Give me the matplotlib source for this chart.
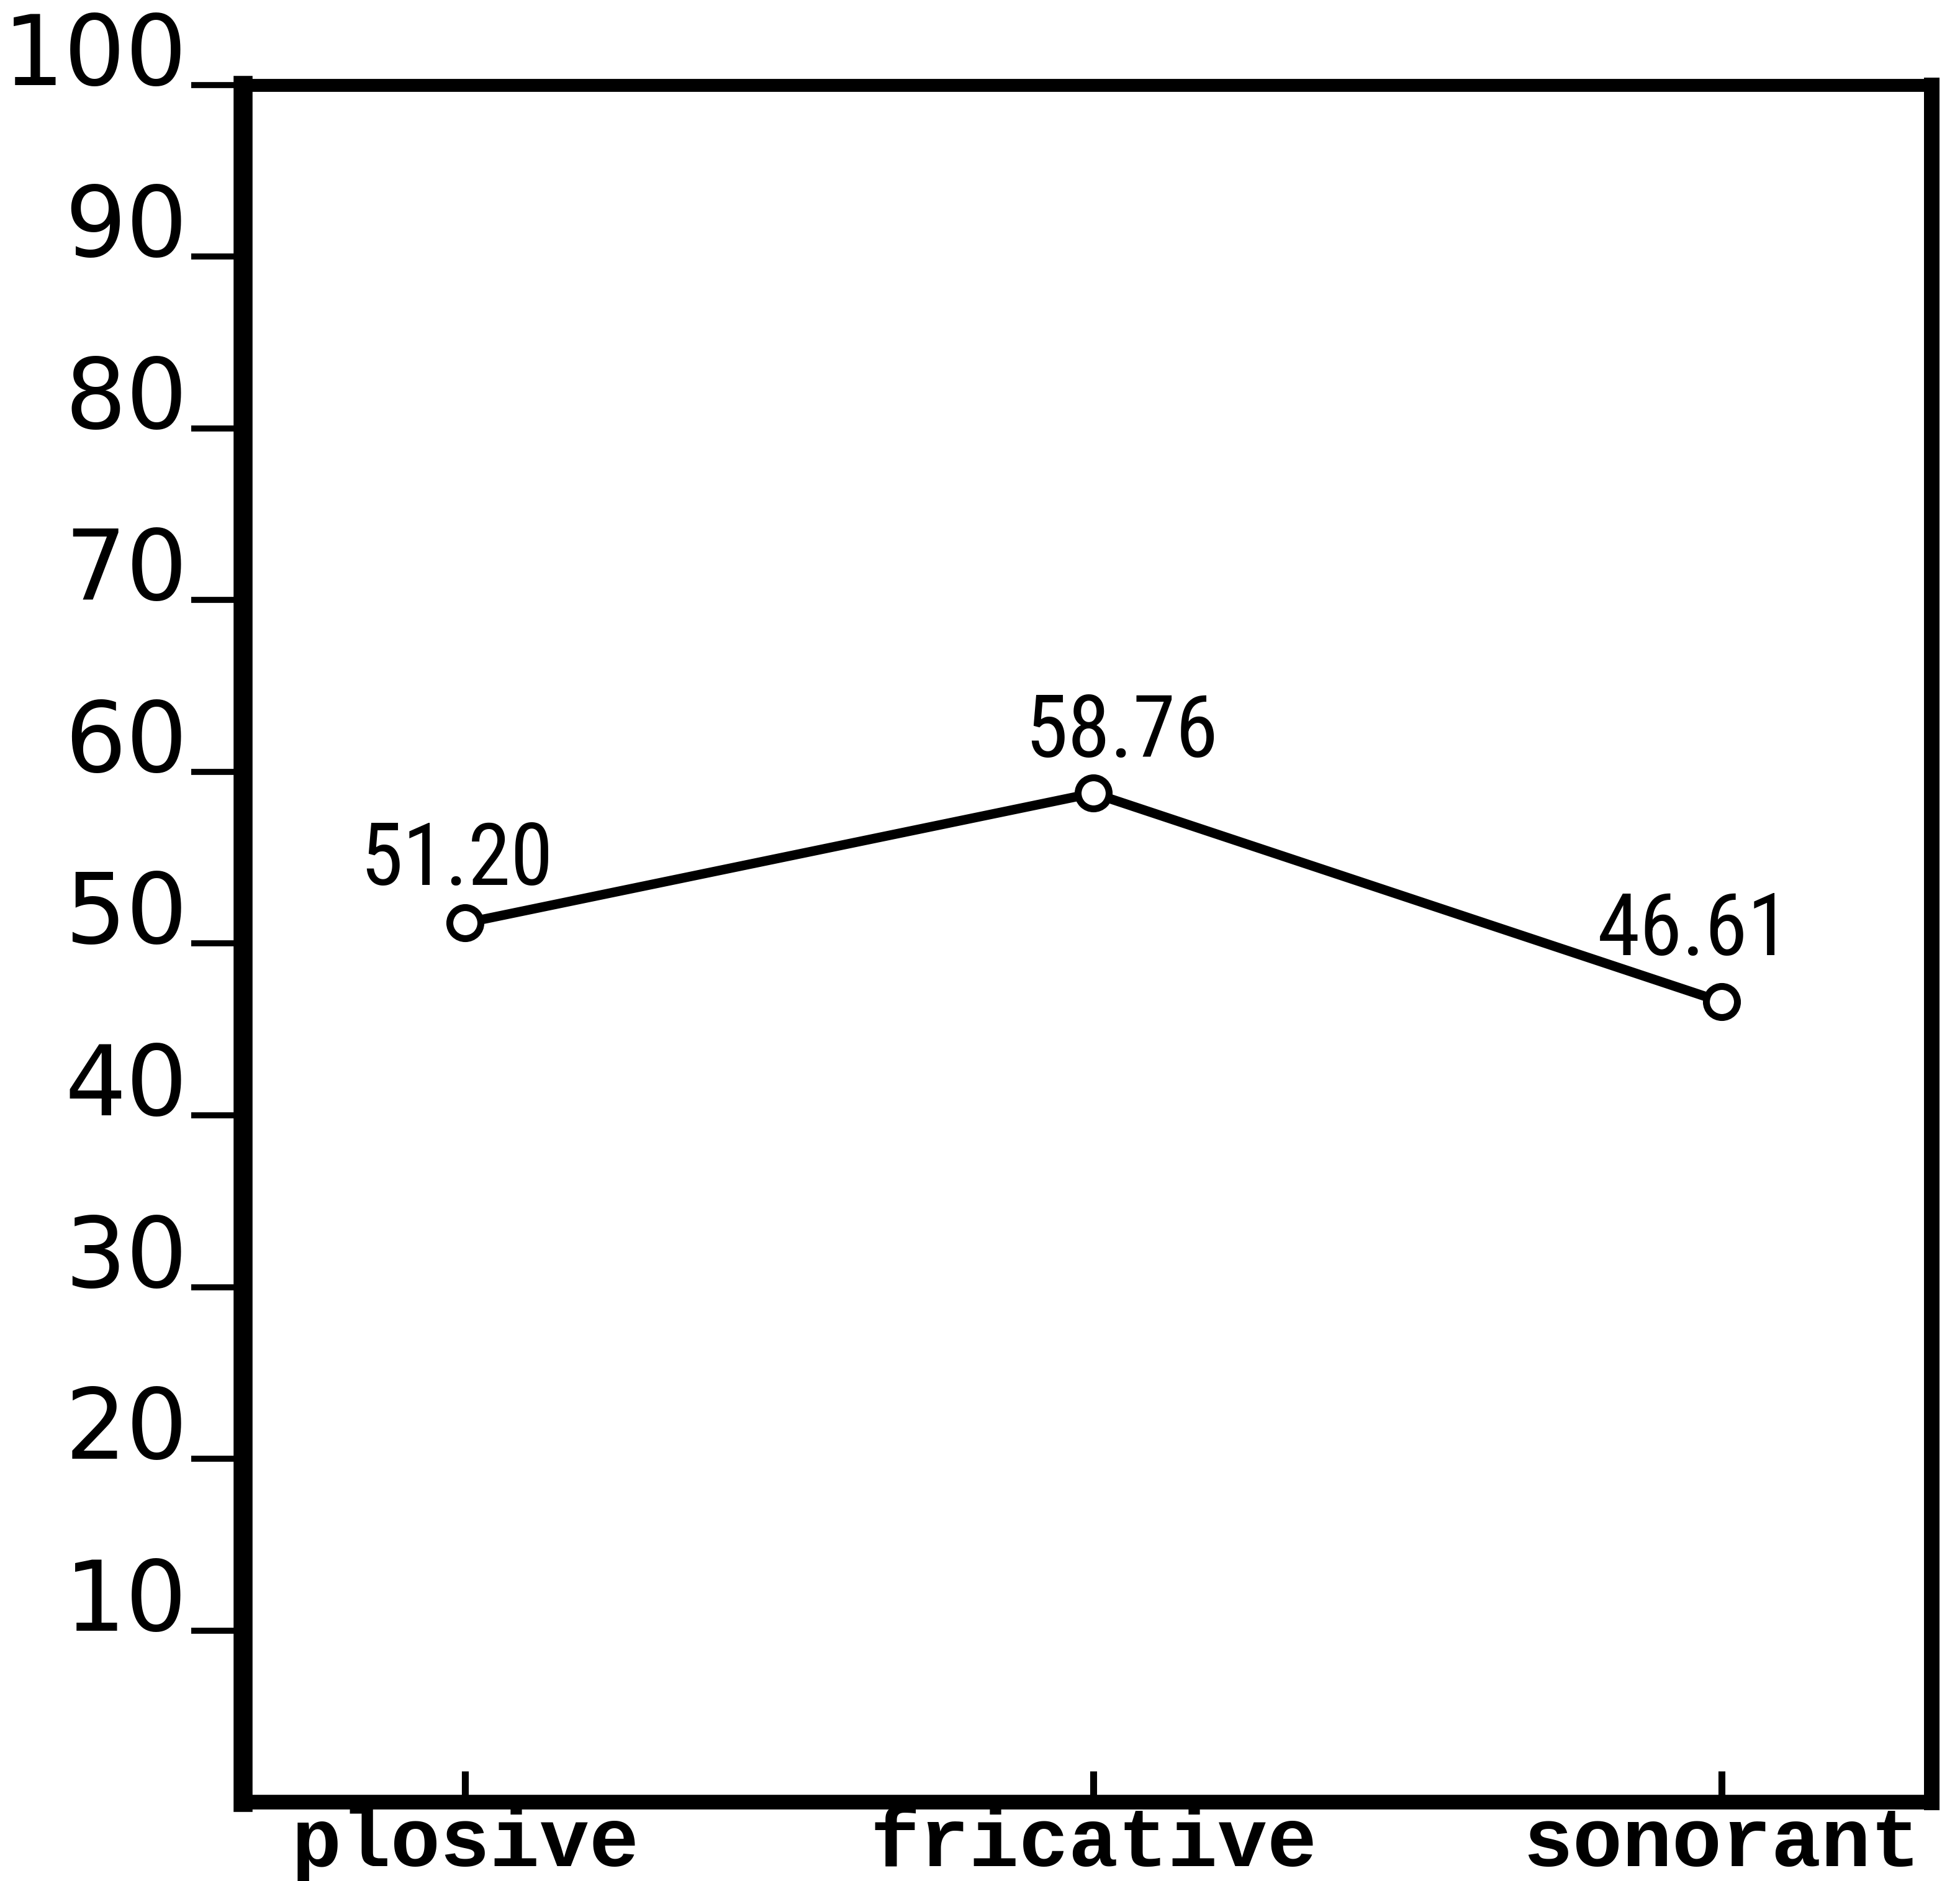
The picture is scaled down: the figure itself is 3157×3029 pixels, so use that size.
import matplotlib
matplotlib.use("Agg")
import matplotlib.pyplot as plt
from matplotlib import font_manager

# Mean scores per manner-of-articulation class
categories = ["plosive", "fricative", "sonorant"]
scores = [51.20, 58.76, 46.61]
score_labels = ["51.20", "58.76", "46.61"]
y_ticks = [10, 20, 30, 40, 50, 60, 70, 80, 90, 100]
y_tick_labels = ["10", "20", "30", "40", "50", "60", "70", "80", "90", "100"]

# Offsets (points) of each value label from its marker
label_offsets = [(-10, 72), (33, 70), (-32, 82)]


def first_available(families):
    names = {f.name for f in font_manager.fontManager.ttflist}
    for fam in families:
        if fam in names:
            return fam
    return "DejaVu Sans"


narrow_font = first_available(["Liberation Sans Narrow", "DejaVu Sans Condensed", "Roboto Condensed", "Liberation Sans"])
mono_font = first_available(["Liberation Mono", "DejaVu Sans Mono"])

fig = plt.figure(figsize=(31.57, 30.29), dpi=100)
fig.patch.set_facecolor("white")
ax = fig.add_axes([0.1239, 0.0419, 0.8615, 0.9129])

x = list(range(len(categories)))
ax.plot(x, scores, color="black", lw=11, marker="o", ms=36,
        mfc="white", mec="black", mew=8, zorder=3, solid_capstyle="round")

for xi, val, txt, (dx, dy) in zip(x, scores, score_labels, label_offsets):
    ax.annotate(txt, xy=(xi, val), xytext=(dx, dy), textcoords="offset points",
                ha="center", va="center", fontsize=100 if narrow_font != "Liberation Sans" else 80,
                fontfamily=narrow_font, color="black")

ax.set_xlim(-0.354, 2.334)
ax.set_ylim(0, 100)

ax.set_yticks(y_ticks)
ax.set_yticklabels(y_tick_labels)
ax.tick_params(axis="y", direction="out", length=60, width=7, pad=4,
               labelsize=112, colors="black")
for t in ax.yaxis.get_major_ticks():
    t.label1.set_verticalalignment("baseline")
    t.label1.set_fontfamily("DejaVu Sans")

ax.set_xticks(x)
ax.set_xticklabels(categories)
ax.tick_params(axis="x", direction="in", length=36, width=8, pad=4,
               labelsize=96, colors="black")
for t in ax.xaxis.get_major_ticks():
    t.label1.set_fontfamily(mono_font)
    t.label1.set_fontweight("bold")

for side, lw in (("left", 22), ("right", 18), ("top", 15), ("bottom", 17)):
    ax.spines[side].set_linewidth(lw)
    ax.spines[side].set_color("black")
    ax.spines[side].set_capstyle("projecting")

fig.savefig("out.png", dpi=100, facecolor="white")
